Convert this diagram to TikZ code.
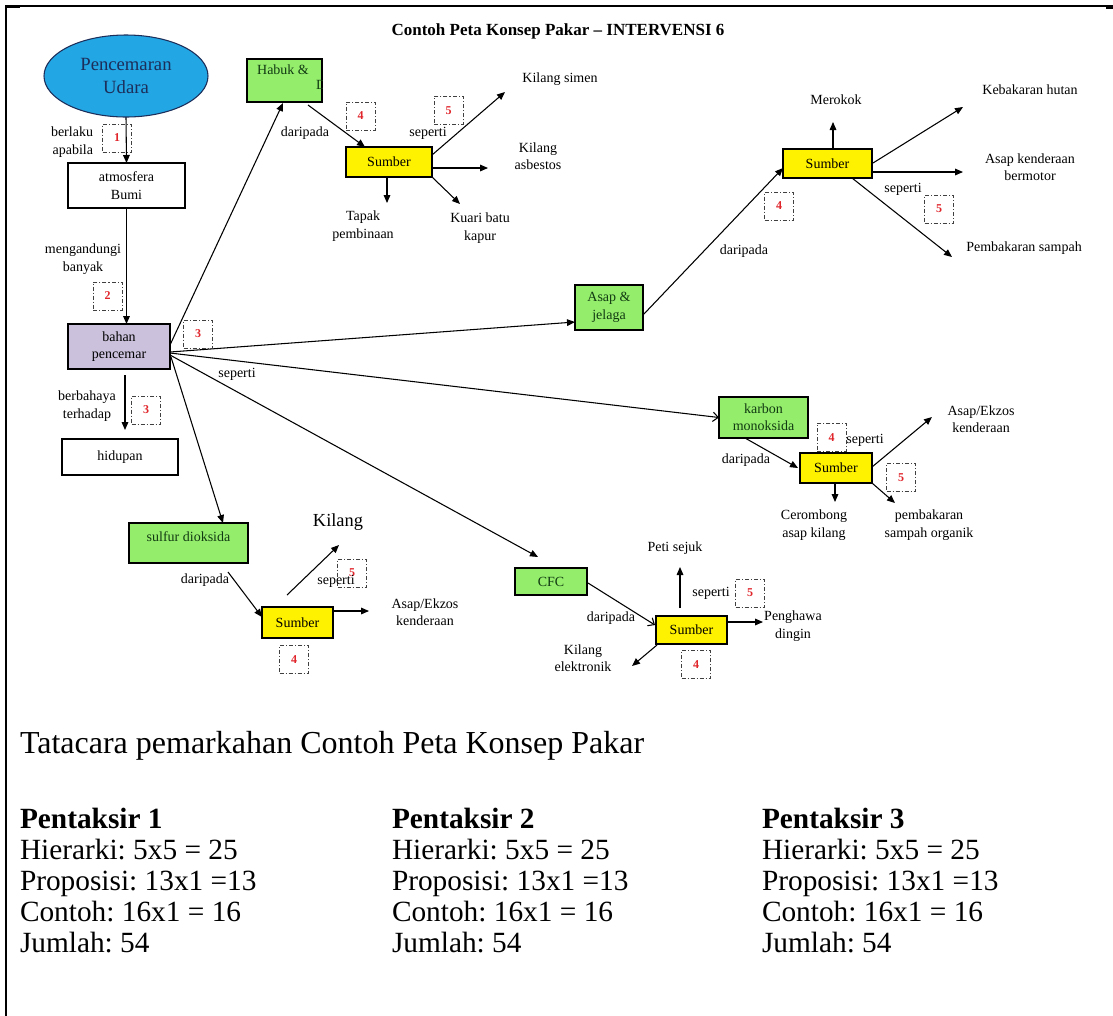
\documentclass[tikz,border=0pt]{standalone}
\usepackage{fontspec}
\setmainfont{Liberation Serif}
\usetikzlibrary{arrows.meta,shapes.geometric,calc}

\definecolor{skyfill}{HTML}{22A6E4}
\definecolor{navytext}{HTML}{1C2E5A}
\definecolor{leaf}{HTML}{94EE6C}
\definecolor{leaftext}{HTML}{123A12}
\definecolor{lilac}{HTML}{CBC1DC}
\definecolor{markred}{HTML}{E0252B}

\pgfdeclarelayer{back}
\pgfsetlayers{back,main}
\frenchspacing

\begin{document}
\begin{tikzpicture}[x=0.75pt,y=-0.75pt,
  every node/.style={inner sep=0pt,outer sep=0pt},
  sz/.style 2 args={minimum width=#1*0.75pt,minimum height=#2*0.75pt},
  lbl/.style={font=\fontsize{10.5}{13}\selectfont,align=center},
  box/.style={draw,line width=0.8pt,rectangle,font=\fontsize{10.5}{13}\selectfont,align=center},
  greenbox/.style={box,fill=leaf,text=leaftext},
  srcbox/.style={box,fill=yellow},
  scorebox/.style={draw=black!75,line width=0.6pt,
    dash pattern=on 3pt off 1.5pt on 0.8pt off 1.5pt,
    sz={29}{28},text=markred,font=\bfseries\fontsize{9}{10}\selectfont},
  conn/.style={line width=0.8pt,-{Triangle[length=6pt,width=5pt]}},
  openconn/.style={line width=0.8pt,-{Straight Barb[length=4pt,width=7pt]}},
  bigtext/.style={anchor=base west,font=\fontsize{22}{26}\selectfont},
]
\useasboundingbox (0,0) rectangle (1113,1015);
\begin{pgfonlayer}{back}
  \fill[white] (0,0) rectangle (1113,1015);
\end{pgfonlayer}

% page frame
\draw[line width=1.5pt] (6,1016) -- (6,6) -- (1113,6);
\fill (6,4.5) rectangle (20,8);
\fill (1106,4.5) rectangle (1113,9);

% title
\node[font=\bfseries\fontsize{12.75}{15}\selectfont] (title) at (558,31)
  {Contoh Peta Konsep Pakar – INTERVENSI 6};

% score marks (dash-dot boxes)
\node[scorebox] (m1)  at (117,138)   {1};
\node[scorebox] (m2)  at (107.5,296) {2};
\node[scorebox] (m3a) at (198,334)   {3};
\node[scorebox] (m3b) at (146,410)   {3};
\node[scorebox] (m4a) at (360.5,116) {4};
\node[scorebox] (m5a) at (448.5,110.5) {5};
\node[scorebox] (m4b) at (779,206)   {4};
\node[scorebox] (m5b) at (939,209)   {5};
\node[scorebox] (m4c) at (831.5,437.5) {4};
\node[scorebox] (m5c) at (901,477.5) {5};
\node[scorebox] (m5d) at (352,573)   {5};
\node[scorebox] (m4d) at (294,659.5) {4};
\node[scorebox] (m5e) at (750,593)   {5};
\node[scorebox] (m4e) at (696,664.5) {4};

% concept nodes
\node[ellipse,draw=navytext,line width=0.8pt,fill=skyfill,sz={164}{82},
  text=navytext,font=\fontsize{14}{17}\selectfont,align=center] (pu) at (126,76) {Pencemaran\\Udara};
\node[box,sz={117}{45}] (atm) at (126.5,185.5) {atmosfera\\Bumi};
\node[box,fill=lilac,sz={102}{45}] (bahan) at (119,346.5) {bahan\\pencemar};
\node[box,sz={116}{36}] (hidup) at (120,457) {hidupan};

\node[greenbox,sz={75}{43}] (habuk) at (284.5,80.5) {};
\node[lbl,text=leaftext] (habuktxt) at (283,70) {Habuk \&};
\begin{scope}
  \clip (habuk.south west) rectangle (habuk.north east);
  \node[lbl,text=leaftext,anchor=west] (debu) at (316,85) {Debu};
\end{scope}
\node[greenbox,sz={68}{45}] (asap) at (609,307.5) {Asap \&\\jelaga};
\node[greenbox,sz={89}{41}] (karbon) at (763.5,417.5) {karbon\\monoksida};
\node[greenbox,sz={119}{40}] (sulfur) at (188.5,543) {};
\node[lbl,text=leaftext] (sulfurtxt) at (188.5,537) {sulfur dioksida};
\node[greenbox,sz={72}{27}] (cfc) at (551,581.5) {CFC};

\node[srcbox,sz={86}{30}] (sb1) at (389,162) {Sumber};
\node[srcbox,sz={89}{29}] (sb2) at (827.5,163.5) {Sumber};
\node[srcbox,sz={72}{30}] (sb3) at (836,468) {Sumber};
\node[srcbox,sz={71}{31}] (sb4) at (297.5,622.5) {Sumber};
\node[srcbox,sz={71}{28}] (sb5) at (691.5,630) {Sumber};

% link words and examples
\node[lbl,align=right,anchor=east] (berlaku) at (93,142) {berlaku\\apabila};
\node[lbl] (mengandung) at (83,259) {mengandungi\\banyak};
\node[lbl] (berbahaya) at (87,406) {berbahaya\\terhadap};
\node[lbl] (sepbahan) at (237,374) {seperti};
\node[lbl] (darihabuk) at (305,133) {daripada};
\node[lbl] (sep1) at (428,133) {seperti};
\node[lbl] (kilsimen) at (560,79) {Kilang simen};
\node[lbl] (asbestos) at (538,156) {Kilang\\asbestos};
\node[lbl] (tapak) at (363,226) {Tapak\\pembinaan};
\node[lbl] (kuari) at (480,228) {Kuari batu\\kapur};
\node[lbl] (merokok) at (836,100) {Merokok};
\node[lbl] (kebakaran) at (1030,90) {Kebakaran hutan};
\node[lbl] (bermotor) at (1030,167) {Asap kenderaan\\bermotor};
\node[lbl] (sep2) at (903,189) {seperti};
\node[lbl] (sampah) at (1024,248) {Pembakaran sampah};
\node[lbl] (dariasap) at (744,251) {daripada};
\node[lbl] (darikarbon) at (746,460) {daripada};
\node[lbl] (sep3) at (865,440) {seperti};
\node[lbl] (ekzosA) at (981,419) {Asap/Ekzos\\kenderaan};
\node[lbl] (cerombong) at (814,525) {Cerombong\\asap kilang};
\node[lbl] (organik) at (929,525) {pembakaran\\sampah organik};
\node[lbl] (darisulfur) at (205,580) {daripada};
\node[lbl,font=\fontsize{13.8}{16}\selectfont] (kilang) at (338,522) {Kilang};
\node[lbl] (sep4) at (336,581) {seperti};
\node[lbl] (ekzosB) at (425,612) {Asap/Ekzos\\kenderaan};
\node[lbl] (peti) at (675,548) {Peti sejuk};
\node[lbl] (sep5) at (711,593) {seperti};
\node[lbl] (daricfc) at (611,618) {daripada};
\node[lbl] (penghawa) at (793,626) {Penghawa\\dingin};
\node[lbl] (elektronik) at (583,658) {Kilang\\elektronik};

% connectors
\begin{pgfonlayer}{back}
\draw[conn] (pu.south) -- (atm.north);
\draw[conn] (atm.south) -- (atm.south |- bahan.north);
\draw[conn] ($(bahan)+(6,28.5)$) -- ($(hidup)+(5,-27)$);
\draw[conn] ($(bahan)+(51,-1.5)$) -- ($(habuk)+(-1.5,22.5)$);
\draw[conn] ($(habuk)+(23.5,24.5)$) -- ($(sb1)+(-24,-15)$);
\draw[conn] ($(sb1)+(43,-7)$) -- ($(kilsimen)+(-55,13)$);
\draw[conn] ($(sb1)+(43,6)$) -- ($(asbestos)+(-50,12)$);
\draw[conn] ($(sb1)+(-2,15)$) -- ($(tapak)+(24,-23)$);
\draw[conn] ($(sb1)+(43,15)$) -- ($(kuari)+(-20,-24)$);
\draw[conn] ($(bahan)+(51,5.5)$) -- ($(asap)+(-34,14.5)$);
\draw[conn] ($(asap)+(34,7.5)$) -- ($(sb2)+(-44.5,4.5)$);
\draw[conn] ($(sb2)+(5.5,-14.5)$) -- ($(merokok)+(-3,22)$);
\draw[conn] ($(sb2)+(45.5,-0.5)$) -- ($(kebakaran)+(-67,17)$);
\draw[conn] ($(sb2)+(44.5,8.5)$) -- ($(bermotor)+(-67,5)$);
\draw[conn] ($(sb2)+(24.5,14.5)$) -- ($(sampah)+(-72,9)$);
\draw[openconn] ($(bahan)+(51,6.5)$) -- (karbon.west);
\draw[conn] ($(karbon)+(-18.5,20.5)$) -- ($(sb3)+(-38,0)$);
\draw[conn] ($(sb3)+(36,-1)$) -- ($(ekzosA)+(-49,-2)$);
\draw[conn] ($(sb3)+(-1,15)$) -- ($(cerombong)+(21,-23)$);
\draw[conn] ($(sb3)+(36,15)$) -- ($(organik)+(-34,-22)$);
\draw[conn] ($(bahan)+(52,10.5)$) -- ($(sulfur)+(34.5,-20)$);
\draw[conn] ($(sulfur)+(39.5,29)$) -- ($(sb4)+(-35.5,-5.5)$);
\draw[conn] ($(sb4)+(-10.5,-27.5)$) -- ($(kilang)+(1,23)$);
\draw[conn] ($(sb4)+(35.5,-11.5)$) -- ($(ekzosB)+(-56,-1)$);
\draw[conn] ($(bahan)+(51,8.5)$) -- ($(cfc)+(-13,-24.5)$);
\draw[openconn] ($(cfc)+(37,1.5)$) -- ($(sb5)+(-36.5,-5)$);
\draw[conn] ($(sb5)+(-11.5,-22)$) -- ($(peti)+(5,19)$);
\draw[conn] ($(sb5)+(35.5,-8)$) -- ($(penghawa)+(-30,-4)$);
\draw[conn] ($(sb5)+(-34.5,15)$) -- ($(elektronik)+(49,8)$);
\end{pgfonlayer}

% marking scheme
\node[bigtext,font=\fontsize{24}{26}\selectfont] (tatacara) at (20,753) {Tatacara pemarkahan Contoh Peta Konsep Pakar};
\foreach \c/\x in {1/20,2/392,3/762}{
  \node[bigtext,font=\bfseries\fontsize{22}{26}\selectfont] (pent\c) at (\x,828) {Pentaksir \c};
  \node[bigtext] (hier\c) at (\x,859) {Hierarki: 5x5 = 25};
  \node[bigtext] (prop\c) at (\x,890) {Proposisi: 13x1 =13};
  \node[bigtext] (cont\c) at (\x,921) {Contoh: 16x1 = 16};
  \node[bigtext] (juml\c) at (\x,952) {Jumlah: 54};
}
\end{tikzpicture}
\end{document}
